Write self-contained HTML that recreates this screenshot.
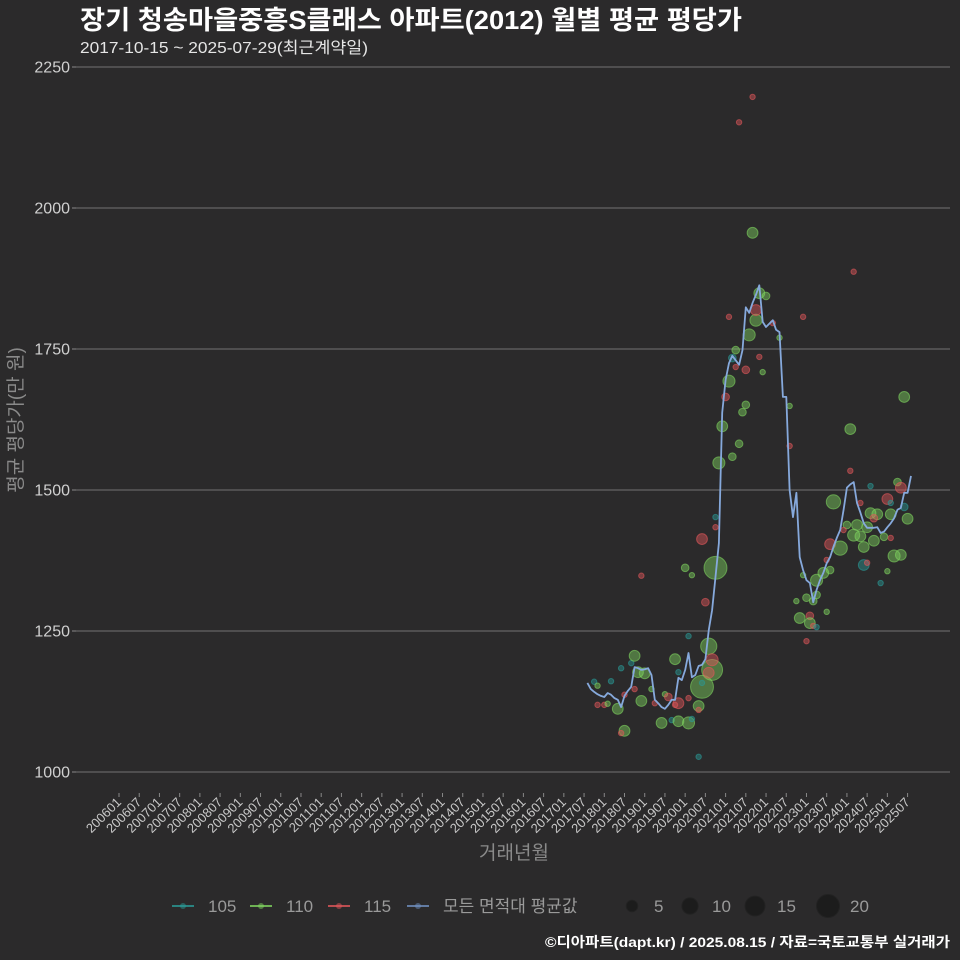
<!DOCTYPE html>
<html><head><meta charset="utf-8"><style>
html,body{margin:0;padding:0;background:#2b2a2b;}
svg{display:block;font-family:"Liberation Sans","Noto Sans CJK KR",sans-serif;}
</style></head><body>
<svg id="chart" width="960" height="960" viewBox="0 0 960 960">
<rect width="960" height="960" fill="#2b2a2b"/>
<text x="80" y="29" fill="#ffffff" font-size="26" font-weight="bold" textLength="662" lengthAdjust="spacingAndGlyphs">장기 청송마을중흥S클래스 아파트(2012) 월별 평균 평당가</text>
<text x="80" y="53" fill="#e6e6e6" font-size="16" textLength="288" lengthAdjust="spacingAndGlyphs">2017-10-15 ~ 2025-07-29(최근계약일)</text>
<g id="grid"></g>
<g id="yaxis"></g>
<g id="xaxis"></g>
<g id="bubbles"></g>
<g id="line"></g>
<text x="514" y="859" fill="#8a8a8a" font-size="19" text-anchor="middle">거래년월</text>
<text transform="translate(22,420) rotate(-90)" fill="#8a8a8a" font-size="19" text-anchor="middle">평균 평당가(만 원)</text>
<g id="legend"></g>
<text x="950" y="947" fill="#ffffff" font-size="14" font-weight="bold" text-anchor="end" textLength="405" lengthAdjust="spacingAndGlyphs">©디아파트(dapt.kr) / 2025.08.15 / 자료=국토교통부 실거래가</text>
</svg>
<script>
// ---- data ----
const yTicks = [1000, 1250, 1500, 1750, 2000, 2250];
const xTickLabels = ["200601","200607","200701","200707","200801","200807","200901","200907","201001","201007","201101","201107","201201","201207","201301","201307","201401","201407","201501","201507","201601","201607","201701","201707","201801","201807","201901","201907","202001","202007","202101","202107","202201","202207","202301","202307","202401","202407","202501","202507"];
const lineStartMonth = 139; // months since 2006-01
const lineValues = [1158,1147,1142,1138,1135,1133,1140,1137,1131,1128,1115,1135,1144,1151,1186,1184,1181,1182,1184,1172,1128,1122,1115,1112,1119,1128,1128,1167,1163,1181,1211,1168,1172,1188,1190,1200,1252,1287,1346,1406,1637,1695,1725,1738,1730,1722,1748,1824,1814,1832,1846,1863,1798,1789,1795,1801,1784,1780,1665,1665,1500,1452,1495,1381,1358,1340,1335,1301,1323,1340,1353,1370,1381,1399,1415,1429,1465,1504,1510,1514,1477,1460,1441,1433,1433,1433,1434,1424,1426,1434,1441,1450,1465,1468,1495,1495,1525];
const bubbleMonth = [141,142,146,142,144,145,148,150,149,149,152,153,154,156,155,153,150,158,159,155,161,162,163,165,166,166,165,164,166,169,170,169,172,172,172,173,173,175,176,176,175,169,173,174,168,170,177,177,177,178,179,182,184,185,186,180,181,186,187,189,189,190,192,181,190,191,194,196,183,182,183,199,199,184,188,188,218,203,233,217,217,223,212,220,231,232,228,229,233,234,223,225,224,229,216,219,218,220,222,224,227,229,221,211,214,215,230,232,221,222,228,226,211,209,207,210,203,207,204,206,201,210,202,205,205,206,207,204];
const bubbleValue = [1160,1153,1161,1119,1119,1121,1112,1073,1069,1184,1193,1206,1177,1175,1126,1147,1137,1147,1122,1348,1087,1138,1133,1200,1177,1122,1119,1092,1090,1087,1094,1131,1117,1110,1027,1151,1158,1223,1181,1199,1176,1241,1413,1301,1362,1349,1362,1434,1452,1548,1613,1559,1582,1638,1651,1665,1693,1713,1775,1801,1819,1849,1844,1807,1736,1709,1796,1770,1748,1734,1718,1649,1578,2152,2197,1956,1887,1807,1665,1608,1534,1507,1479,1477,1514,1504,1484,1477,1470,1449,1459,1457,1450,1457,1438,1438,1420,1418,1434,1410,1417,1415,1399,1404,1397,1429,1383,1385,1367,1371,1356,1335,1358,1353,1340,1376,1349,1314,1309,1303,1303,1284,1273,1277,1264,1259,1257,1232];
const bubbleArea = [105,110,105,115,115,110,110,110,115,105,105,110,110,110,110,115,115,110,115,115,110,110,115,110,105,115,115,105,110,110,105,115,110,115,105,110,105,110,110,115,115,105,115,115,110,110,110,115,105,110,110,110,110,110,110,115,110,115,110,110,115,110,110,115,115,110,115,110,110,105,115,110,115,115,115,110,115,115,110,110,115,105,110,115,110,115,115,105,105,110,110,110,115,110,110,110,110,110,110,110,110,115,110,115,110,115,110,110,105,115,110,105,110,110,110,115,110,110,110,110,110,110,110,115,110,115,105,115];
const bubbleCount = [1,1,1,1,1,1,4,4,1,1,1,4,4,4,4,1,1,1,1,1,4,1,2,4,1,4,1,1,4,5,1,1,4,1,1,18,1,9,15,5,4,1,4,2,2,1,18,1,1,5,4,2,2,2,2,2,5,2,5,5,4,4,2,1,1,1,1,1,2,2,1,1,1,1,1,4,1,1,4,4,1,1,7,1,2,4,4,1,2,4,4,4,2,4,2,4,5,4,4,4,2,1,4,4,7,1,5,4,4,1,1,1,2,4,5,1,1,2,2,2,1,1,4,2,4,1,1,1];
const sizeLegend = [5,10,15,20];

// ---- scales ----
const X0 = 119, DX = 3.37;
function xScale(m){ return X0 + m*DX; }
function yScale(v){ return 772 - (v-1000)*(705/1250); }
function rScale(n){ return 2.7*Math.sqrt(n); }
const colors = {105:"#2a9a96",110:"#7fd35f",115:"#e0565a"};
const NS = "http://www.w3.org/2000/svg";
function mk(tag, attrs, parent){ const e=document.createElementNS(NS,tag); for(const k in attrs) e.setAttribute(k,attrs[k]); parent.appendChild(e); return e; }

const grid = document.getElementById('grid');
const yaxis = document.getElementById('yaxis');
yTicks.forEach(v=>{
  const y = yScale(v);
  const g = mk('line',{x1:75,x2:950,y1:y,y2:y,stroke:'#737373','stroke-width':1},grid);
  
  
  const t = mk('line',{x1:72,x2:76,y1:y,y2:y,stroke:'#888'},yaxis);
  
  
  const l = mk('text',{x:70,y:y+5.5,fill:'#d0d0d0','font-size':16,'text-anchor':'end'},yaxis);
  l.textContent = v;
  
  
});
const xaxis = document.getElementById('xaxis');
xTickLabels.forEach((lab,i)=>{
  const m = (parseInt(lab.slice(0,4))-2006)*12 + parseInt(lab.slice(4))-1;
  const x = xScale(m);
  const t = mk('line',{x1:x,x2:x,y1:793,y2:797,stroke:'#888'},xaxis);
  
  
  const l = mk('text',{x:x+3,y:803,fill:'#c8c8c8','font-size':13,'text-anchor':'end',transform:`rotate(-45 ${x+3} 803)`},xaxis);
  l.textContent = lab;
  
  
});
const bg = document.getElementById('bubbles');
bubbleMonth.forEach((m,i)=>{
  const c = colors[bubbleArea[i]];
  const b = mk('circle',{cx:xScale(m),cy:yScale(bubbleValue[i]),r:rScale(bubbleCount[i]),fill:c,'fill-opacity':0.45,stroke:c,'stroke-opacity':0.6,'stroke-width':1},bg);
  
  
});
const pts = lineValues.map((v,i)=>xScale(lineStartMonth+i).toFixed(1)+','+yScale(v).toFixed(1)).join(' ');
const pl = mk('polyline',{points:pts,fill:'none',stroke:'#86a9dc','stroke-width':1.8,'stroke-linejoin':'round'},document.getElementById('line'));



// legend
const lg = document.getElementById('legend');
const legendItems = [["105",colors[105],172],["110",colors[110],250],["115",colors[115],328],["모든 면적대 평균값","#7090c0",407]];
legendItems.forEach(([lab,c,x])=>{
  const g = mk('g',{},lg);
  
  
  mk('line',{x1:x,x2:x+22,y1:906,y2:906,stroke:c,'stroke-width':2,'stroke-opacity':0.8},g);
  mk('circle',{cx:x+11,cy:906,r:3,fill:c,'fill-opacity':0.5},g);
  const t = mk('text',{x:x+36,y:912,fill:'#9a9a9a','font-size':17},g);
  t.textContent = lab;
});
const sizeX = [632,690,755,828];
sizeLegend.forEach((n,i)=>{
  const g = mk('g',{},lg);
  
  
  mk('circle',{cx:sizeX[i],cy:906,r:rScale(n)*0.95,fill:'#1c1c1c',stroke:'#222'},g);
  const t = mk('text',{x:sizeX[i]+22,y:912,fill:'#9a9a9a','font-size':17},g);
  t.textContent = n;
});
</script>
</body></html>
